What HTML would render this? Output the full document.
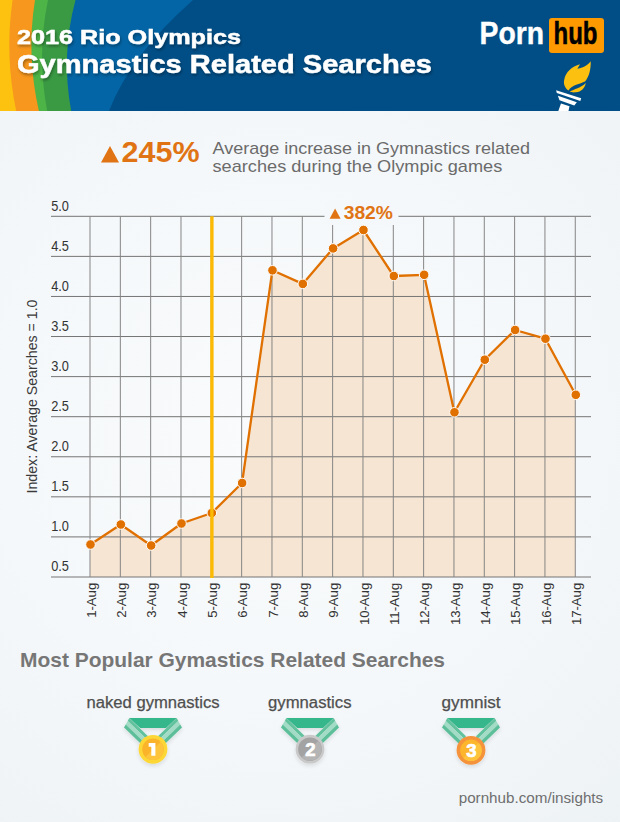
<!DOCTYPE html>
<html><head><meta charset="utf-8">
<style>
html,body{margin:0;padding:0;width:620px;height:822px;overflow:hidden;background:#f1f4f7;}
svg{display:block;font-family:"Liberation Sans",sans-serif;}
</style></head><body>
<svg width="620" height="822" viewBox="0 0 620 822">
<defs>
<radialGradient id="bg" gradientUnits="userSpaceOnUse" cx="270" cy="430" r="540">
<stop offset="0" stop-color="#f9fbfc"/><stop offset="0.5" stop-color="#f5f8fa"/><stop offset="1" stop-color="#edf2f5"/>
</radialGradient>
<filter id="ts" x="-10%" y="-30%" width="120%" height="160%"><feGaussianBlur in="SourceAlpha" stdDeviation="1.5"/><feOffset dx="0.5" dy="1.5"/><feComponentTransfer><feFuncA type="linear" slope="0.35"/></feComponentTransfer><feMerge><feMergeNode/><feMergeNode in="SourceGraphic"/></feMerge></filter>
<filter id="msh" x="-30%" y="-30%" width="160%" height="160%"><feGaussianBlur in="SourceAlpha" stdDeviation="2"/><feOffset dx="0" dy="2"/><feComponentTransfer><feFuncA type="linear" slope="0.12"/></feComponentTransfer><feMerge><feMergeNode/><feMergeNode in="SourceGraphic"/></feMerge></filter>
</defs>
<rect x="0" y="0" width="620" height="822" fill="url(#bg)"/>
<!-- header -->
<rect x="0" y="0" width="620" height="111" fill="#014e86"/>
<path d="M0,0 L193,0 Q130.5,55 109,111 L0,111 Z" fill="#0365a5"/>
<path d="M0,0 L75.5,0 Q60.75,55 71.2,111 L0,111 Z" fill="#3a9a44"/>
<path d="M0,0 L48,0 Q36.5,55 47.2,111 L0,111 Z" fill="#4db447"/>
<path d="M0,0 L35,0 Q26.15,55 38.9,111 L0,111 Z" fill="#f7971d"/>
<path d="M0,0 L12.6,0 Q4.5,55 16.2,111 L0,111 Z" fill="#fdc20f"/>
<g fill="#fff" font-weight="bold" filter="url(#ts)" stroke="#fff" stroke-width="0.5">
<text x="17" y="44" font-size="20.5" textLength="224" lengthAdjust="spacingAndGlyphs">2016 Rio Olympics</text>
<text x="17" y="73" font-size="26.5" textLength="415" lengthAdjust="spacingAndGlyphs">Gymnastics Related Searches</text>
</g>
<!-- logo -->
<text x="479.5" y="44" font-size="30.5" font-weight="bold" fill="#fff" stroke="#fff" stroke-width="0.4" textLength="64.5" lengthAdjust="spacingAndGlyphs">Porn</text>
<rect x="549" y="18" width="55" height="35" rx="3" fill="#ff9900"/>
<text x="553.5" y="44" font-size="30.5" font-weight="bold" fill="#000" stroke="#000" stroke-width="0.5" textLength="44" lengthAdjust="spacingAndGlyphs">hub</text>
<!-- torch -->
<g fill="#fbc010">
<path d="M580,64.3 L577.4,68.8 C581,68 587,66.5 590.7,61.2 C591,69 589,77 585,81.6 C580,84 572,85 568.5,90.5 C564.5,88 563.3,83 564.2,80 C565.5,72 572,66.5 580,64.3 Z"/>
<path d="M569.8,91.8 C574,89 581,88 585.8,83 C585,88 581,92 576,92.3 C573,92.5 571,92.3 569.8,91.8 Z"/>
</g>
<g fill="#fff">
<path d="M556.1,90.2 L581.2,98.2 L580.3,100.9 L556.8,92.9 Z"/>
<path d="M557.9,95.8 L576.8,102.2 L574.3,105.6 L559.5,100.2 Z"/>
<path d="M561,103.4 L569.5,106.3 L568.5,111 L558.3,111 Z"/>
</g>
<!-- callout -->
<path d="M101,162.5 L110,146 L119,162.5 Z" fill="#e07414"/>
<text x="121.5" y="162" font-size="29" font-weight="bold" fill="#e07414" textLength="78" lengthAdjust="spacingAndGlyphs">245%</text>
<g fill="#6b6b6b" font-size="17">
<text x="212.5" y="154" textLength="317.5" lengthAdjust="spacingAndGlyphs">Average increase in Gymnastics related</text>
<text x="212.5" y="171.5" textLength="289.8" lengthAdjust="spacingAndGlyphs">searches during the Olympic games</text>
</g>
<!-- chart -->
<path d="M90.00,577.0 L90.00,544.50 120.33,524.50 150.66,545.50 180.99,523.50 211.32,513.00 241.65,483.00 271.98,270.30 302.31,283.90 332.64,248.40 362.97,230.00 393.30,276.00 423.63,274.80 453.96,412.30 484.29,359.70 514.62,330.00 544.95,338.70 575.28,394.80 L575.28,577.0 Z" fill="#f6e5d2"/>
<g stroke="#747474" stroke-width="1" fill="none"><line x1="51" y1="577.00" x2="591" y2="577.00"/><line x1="51" y1="536.92" x2="591" y2="536.92"/><line x1="51" y1="496.84" x2="591" y2="496.84"/><line x1="51" y1="456.77" x2="591" y2="456.77"/><line x1="51" y1="416.69" x2="591" y2="416.69"/><line x1="51" y1="376.61" x2="591" y2="376.61"/><line x1="51" y1="336.53" x2="591" y2="336.53"/><line x1="51" y1="296.46" x2="591" y2="296.46"/><line x1="51" y1="256.38" x2="591" y2="256.38"/><line x1="51" y1="216.30" x2="591" y2="216.30"/><line x1="90.00" y1="216.30" x2="90.00" y2="577.00" stroke="#858585"/><line x1="120.33" y1="216.30" x2="120.33" y2="577.00" stroke="#858585"/><line x1="150.66" y1="216.30" x2="150.66" y2="577.00" stroke="#858585"/><line x1="180.99" y1="216.30" x2="180.99" y2="577.00" stroke="#858585"/><line x1="211.32" y1="216.30" x2="211.32" y2="577.00" stroke="#858585"/><line x1="241.65" y1="216.30" x2="241.65" y2="577.00" stroke="#858585"/><line x1="271.98" y1="216.30" x2="271.98" y2="577.00" stroke="#858585"/><line x1="302.31" y1="216.30" x2="302.31" y2="577.00" stroke="#858585"/><line x1="332.64" y1="216.30" x2="332.64" y2="577.00" stroke="#858585"/><line x1="362.97" y1="216.30" x2="362.97" y2="577.00" stroke="#858585"/><line x1="393.30" y1="216.30" x2="393.30" y2="577.00" stroke="#858585"/><line x1="423.63" y1="216.30" x2="423.63" y2="577.00" stroke="#858585"/><line x1="453.96" y1="216.30" x2="453.96" y2="577.00" stroke="#858585"/><line x1="484.29" y1="216.30" x2="484.29" y2="577.00" stroke="#858585"/><line x1="514.62" y1="216.30" x2="514.62" y2="577.00" stroke="#858585"/><line x1="544.95" y1="216.30" x2="544.95" y2="577.00" stroke="#858585"/><line x1="575.28" y1="216.30" x2="575.28" y2="577.00" stroke="#858585"/></g>
<polyline points="90.40,544.50 120.73,524.50 151.06,545.50 181.39,523.50 211.72,513.00 242.05,483.00 272.38,270.30 302.71,283.90 333.04,248.40 363.37,230.00 393.70,276.00 424.03,274.80 454.36,412.30 484.69,359.70 515.02,330.00 545.35,338.70 575.68,394.80" fill="none" stroke="#e07000" stroke-width="2.3" stroke-linejoin="round"/>
<g fill="#e07000" stroke="#fff" stroke-width="1"><circle cx="90.50" cy="544.50" r="4.8"/><circle cx="120.83" cy="524.50" r="4.8"/><circle cx="151.16" cy="545.50" r="4.8"/><circle cx="181.49" cy="523.50" r="4.8"/><circle cx="211.82" cy="513.00" r="4.8"/><circle cx="242.15" cy="483.00" r="4.8"/><circle cx="272.48" cy="270.30" r="4.8"/><circle cx="302.81" cy="283.90" r="4.8"/><circle cx="333.14" cy="248.40" r="4.8"/><circle cx="363.47" cy="230.00" r="4.8"/><circle cx="393.80" cy="276.00" r="4.8"/><circle cx="424.13" cy="274.80" r="4.8"/><circle cx="454.46" cy="412.30" r="4.8"/><circle cx="484.79" cy="359.70" r="4.8"/><circle cx="515.12" cy="330.00" r="4.8"/><circle cx="545.45" cy="338.70" r="4.8"/><circle cx="575.78" cy="394.80" r="4.8"/></g>
<line x1="211.9" y1="216.3" x2="211.9" y2="578" stroke="#fcba05" stroke-width="3.4"/>
<rect x="324.5" y="202" width="74" height="23" rx="3" fill="#f5f8fa"/>
<path d="M329.6,218.8 L335.1,208.6 L340.6,218.8 Z" fill="#e07414"/>
<text x="343.7" y="218.5" font-size="18" font-weight="bold" fill="#e07414" textLength="49.3" lengthAdjust="spacingAndGlyphs">382%</text>
<g fill="#333" font-size="14.3"><text x="51.2" y="571.3" textLength="17.8" lengthAdjust="spacingAndGlyphs">0.5</text><text x="51.2" y="531.2" textLength="17.8" lengthAdjust="spacingAndGlyphs">1.0</text><text x="51.2" y="491.1" textLength="17.8" lengthAdjust="spacingAndGlyphs">1.5</text><text x="51.2" y="451.1" textLength="17.8" lengthAdjust="spacingAndGlyphs">2.0</text><text x="51.2" y="411.0" textLength="17.8" lengthAdjust="spacingAndGlyphs">2.5</text><text x="51.2" y="370.9" textLength="17.8" lengthAdjust="spacingAndGlyphs">3.0</text><text x="51.2" y="330.8" textLength="17.8" lengthAdjust="spacingAndGlyphs">3.5</text><text x="51.2" y="290.8" textLength="17.8" lengthAdjust="spacingAndGlyphs">4.0</text><text x="51.2" y="250.7" textLength="17.8" lengthAdjust="spacingAndGlyphs">4.5</text><text x="51.2" y="210.6" textLength="17.8" lengthAdjust="spacingAndGlyphs">5.0</text></g>
<text transform="translate(37,396.5) rotate(-90)" text-anchor="middle" font-size="14" fill="#3a3a3a" textLength="194" lengthAdjust="spacingAndGlyphs">Index: Average Searches = 1.0</text>
<g fill="#333" font-size="13.5"><text transform="translate(95.5,582.8) rotate(-90)" text-anchor="end" textLength="35" lengthAdjust="spacingAndGlyphs">1-Aug</text><text transform="translate(125.8,582.8) rotate(-90)" text-anchor="end" textLength="35" lengthAdjust="spacingAndGlyphs">2-Aug</text><text transform="translate(156.2,582.8) rotate(-90)" text-anchor="end" textLength="35" lengthAdjust="spacingAndGlyphs">3-Aug</text><text transform="translate(186.5,582.8) rotate(-90)" text-anchor="end" textLength="35" lengthAdjust="spacingAndGlyphs">4-Aug</text><text transform="translate(216.8,582.8) rotate(-90)" text-anchor="end" textLength="35" lengthAdjust="spacingAndGlyphs">5-Aug</text><text transform="translate(247.1,582.8) rotate(-90)" text-anchor="end" textLength="35" lengthAdjust="spacingAndGlyphs">6-Aug</text><text transform="translate(277.5,582.8) rotate(-90)" text-anchor="end" textLength="35" lengthAdjust="spacingAndGlyphs">7-Aug</text><text transform="translate(307.8,582.8) rotate(-90)" text-anchor="end" textLength="35" lengthAdjust="spacingAndGlyphs">8-Aug</text><text transform="translate(338.1,582.8) rotate(-90)" text-anchor="end" textLength="35" lengthAdjust="spacingAndGlyphs">9-Aug</text><text transform="translate(368.5,582.8) rotate(-90)" text-anchor="end" textLength="42.3" lengthAdjust="spacingAndGlyphs">10-Aug</text><text transform="translate(398.8,582.8) rotate(-90)" text-anchor="end" textLength="42.3" lengthAdjust="spacingAndGlyphs">11-Aug</text><text transform="translate(429.1,582.8) rotate(-90)" text-anchor="end" textLength="42.3" lengthAdjust="spacingAndGlyphs">12-Aug</text><text transform="translate(459.5,582.8) rotate(-90)" text-anchor="end" textLength="42.3" lengthAdjust="spacingAndGlyphs">13-Aug</text><text transform="translate(489.8,582.8) rotate(-90)" text-anchor="end" textLength="42.3" lengthAdjust="spacingAndGlyphs">14-Aug</text><text transform="translate(520.1,582.8) rotate(-90)" text-anchor="end" textLength="42.3" lengthAdjust="spacingAndGlyphs">15-Aug</text><text transform="translate(550.5,582.8) rotate(-90)" text-anchor="end" textLength="42.3" lengthAdjust="spacingAndGlyphs">16-Aug</text><text transform="translate(580.8,582.8) rotate(-90)" text-anchor="end" textLength="42.3" lengthAdjust="spacingAndGlyphs">17-Aug</text></g>
<!-- bottom -->
<text x="20" y="666.5" font-size="21" font-weight="bold" fill="#767676" textLength="425" lengthAdjust="spacingAndGlyphs">Most Popular Gymastics Related Searches</text>
<g fill="#4f4f4f" font-size="16" stroke="#4f4f4f" stroke-width="0.25">
<text x="86.5" y="708" textLength="133" lengthAdjust="spacingAndGlyphs">naked gymnastics</text>
<text x="268.1" y="708" textLength="83.4" lengthAdjust="spacingAndGlyphs">gymnastics</text>
<text x="441.6" y="708.3" textLength="59" lengthAdjust="spacingAndGlyphs">gymnist</text>
</g>
<text x="458.7" y="802.6" font-size="15.5" fill="#6e6e6e" textLength="144.5" lengthAdjust="spacingAndGlyphs">pornhub.com/insights</text>
<g filter="url(#msh)"><path d="M129.30,718.1 L176.70,718.1 L166.00,727.9 L140.20,727.9 Z" fill="#34b68b"/><path d="M129.30,718.10 L127.71,720.89 L146.43,739.09 L148.02,736.30 Z" fill="#62c29e"/><path d="M127.71,720.89 L125.70,724.42 L144.42,742.62 L146.43,739.09 Z" fill="#a2dbc6"/><path d="M125.70,724.42 L124.00,727.40 L142.72,745.60 L144.42,742.62 Z" fill="#5cbf9a"/><path d="M176.70,718.10 L178.29,720.89 L159.57,739.09 L157.98,736.30 Z" fill="#62c29e"/><path d="M178.29,720.89 L180.30,724.42 L161.58,742.62 L159.57,739.09 Z" fill="#a2dbc6"/><path d="M180.30,724.42 L182.00,727.40 L163.28,745.60 L161.58,742.62 Z" fill="#5cbf9a"/><circle cx="153" cy="749.3" r="14.4" fill="#fdd736"/></g><circle cx="153" cy="749.3" r="10.8" fill="#fbb32a"/><path d="M160.64,741.66 A10.8,10.8 0 0 1 145.36,756.94 Z" fill="#fdc43c"/><path d="M148.70,743.10 L155.40,743.10 L155.40,755.70 L151.30,755.70 L151.30,746.70 L148.70,746.70 Z" fill="#fff"/><g filter="url(#msh)"><path d="M286.30,718.1 L333.70,718.1 L323.00,727.9 L297.20,727.9 Z" fill="#34b68b"/><path d="M286.30,718.10 L284.71,720.89 L303.43,739.09 L305.02,736.30 Z" fill="#62c29e"/><path d="M284.71,720.89 L282.70,724.42 L301.42,742.62 L303.43,739.09 Z" fill="#a2dbc6"/><path d="M282.70,724.42 L281.00,727.40 L299.72,745.60 L301.42,742.62 Z" fill="#5cbf9a"/><path d="M333.70,718.10 L335.29,720.89 L316.57,739.09 L314.98,736.30 Z" fill="#62c29e"/><path d="M335.29,720.89 L337.30,724.42 L318.58,742.62 L316.57,739.09 Z" fill="#a2dbc6"/><path d="M337.30,724.42 L339.00,727.40 L320.28,745.60 L318.58,742.62 Z" fill="#5cbf9a"/><circle cx="310" cy="749.2" r="14.4" fill="#c9c9c9"/></g><circle cx="310" cy="749.2" r="11.8" fill="#a3a3a3"/><path d="M318.34,740.86 A11.8,11.8 0 0 1 301.66,757.54 Z" fill="#b4b4b4"/><text x="310.3" y="755.8" text-anchor="middle" font-size="18.5" font-weight="bold" fill="#fff" stroke="#fff" stroke-width="0.7">2</text><g filter="url(#msh)"><path d="M447.30,718.1 L494.70,718.1 L484.00,727.9 L458.20,727.9 Z" fill="#34b68b"/><path d="M447.30,718.10 L445.71,720.89 L464.43,739.09 L466.02,736.30 Z" fill="#62c29e"/><path d="M445.71,720.89 L443.70,724.42 L462.42,742.62 L464.43,739.09 Z" fill="#a2dbc6"/><path d="M443.70,724.42 L442.00,727.40 L460.72,745.60 L462.42,742.62 Z" fill="#5cbf9a"/><path d="M494.70,718.10 L496.29,720.89 L477.57,739.09 L475.98,736.30 Z" fill="#62c29e"/><path d="M496.29,720.89 L498.30,724.42 L479.58,742.62 L477.57,739.09 Z" fill="#a2dbc6"/><path d="M498.30,724.42 L500.00,727.40 L481.28,745.60 L479.58,742.62 Z" fill="#5cbf9a"/><circle cx="471" cy="750.3" r="14.4" fill="#f4933a"/></g><circle cx="471" cy="750.3" r="10.8" fill="#fdb52b"/><path d="M478.64,742.66 A10.8,10.8 0 0 1 463.36,757.94 Z" fill="#fec33b"/><text x="471.3" y="756.9" text-anchor="middle" font-size="18.5" font-weight="bold" fill="#fff" stroke="#fff" stroke-width="0.7">3</text>
</svg>
</body></html>
